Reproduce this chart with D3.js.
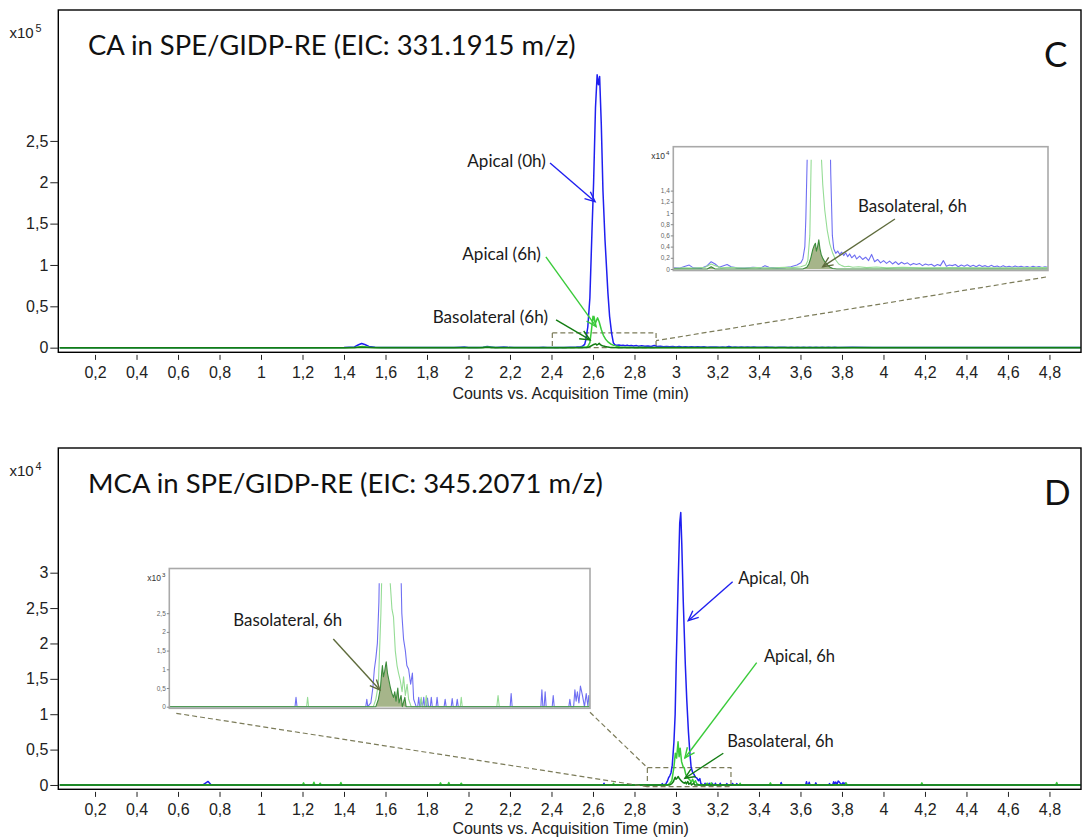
<!DOCTYPE html>
<html>
<head>
<meta charset="utf-8">
<script src="https://cdn.jsdelivr.net/npm/d3@7"></script>
<style>
  html, body { margin: 0; background: #fff; }
  svg { display: block; }
</style>
</head>
<body>
<svg id="chart" width="1083" height="840"></svg>
<script>
// ---------------------------------------------------------------
// Extracted ion chromatograms, counts vs. acquisition time (min)
// ---------------------------------------------------------------
const timeDomain = [0.023, 4.952];
const xTickValues = [0.2, 0.4, 0.6, 0.8, 1, 1.2, 1.4, 1.6, 1.8, 2, 2.2, 2.4, 2.6, 2.8, 3, 3.2, 3.4, 3.6, 3.8, 4, 4.2, 4.4, 4.6, 4.8];

// CA, EIC 331.1915 m/z
const caYTicks = [0, 50000, 100000, 150000, 200000, 250000];
const caInsetYTicks = [0, 2000, 4000, 6000, 8000, 10000, 12000, 14000];

const caApical0h = [
  [0.03, 0], [0.40, 0], [0.80, 50], [1.20, 0], [1.40, 100], [1.45, 900], [1.47, 3500], [1.485, 5000], [1.50, 3800],
  [1.52, 1500], [1.55, 600], [1.58, 300], [1.62, 200], [1.70, 100], [1.80, 150], [1.90, 200], [1.93, 150], [1.96, 500],
  [1.98, 700], [2.00, 200], [2.04, 150], [2.07, 600], [2.09, 1300], [2.11, 900], [2.13, 300], [2.17, 800], [2.19, 400],
  [2.22, 200], [2.26, 150], [2.30, 300], [2.34, 200], [2.36, 600], [2.38, 300], [2.42, 200], [2.46, 250], [2.49, 400],
  [2.52, 700], [2.54, 1100], [2.55, 1800], [2.56, 4000], [2.565, 9000], [2.575, 25000], [2.585, 60000], [2.595, 140000],
  [2.603, 200000], [2.612, 290000], [2.620, 330000], [2.626, 318000], [2.632, 328000], [2.640, 270000], [2.648, 190000],
  [2.658, 130000], [2.672, 66000], [2.680, 38000], [2.690, 17000], [2.698, 6000], [2.705, 3600], [2.715, 2800],
  [2.725, 3200], [2.735, 2600], [2.745, 3000], [2.755, 2400], [2.765, 2900], [2.775, 2200], [2.785, 2700], [2.795, 2000],
  [2.81, 2500], [2.82, 1800], [2.835, 2300], [2.85, 1700], [2.865, 2100], [2.88, 1500], [2.895, 2600], [2.91, 1300],
  [2.925, 1700], [2.94, 1100], [2.955, 1500], [2.97, 1000], [2.985, 1400], [3.00, 900], [3.015, 1300], [3.03, 800],
  [3.045, 1200], [3.06, 900], [3.075, 1100], [3.09, 700], [3.105, 1000], [3.12, 800], [3.135, 1000], [3.15, 600],
  [3.165, 900], [3.18, 700], [3.195, 850], [3.21, 500], [3.225, 800], [3.24, 600], [3.255, 1500], [3.27, 500],
  [3.285, 700], [3.30, 600], [3.315, 800], [3.33, 400], [3.345, 700], [3.36, 500], [3.375, 750], [3.39, 450],
  [3.405, 650], [3.42, 400], [3.435, 700], [3.45, 450], [3.465, 600], [3.48, 350], [3.495, 650], [3.51, 400],
  [3.525, 550], [3.54, 300], [3.555, 600], [3.57, 350], [3.585, 500], [3.60, 300], [3.615, 550], [3.63, 350],
  [3.645, 500], [3.66, 300], [3.675, 450], [3.69, 250], [3.705, 500], [3.72, 300], [3.735, 450], [3.75, 250],
  [3.765, 400], [3.78, 300], [3.85, 400], [3.95, 300], [4.05, 350], [4.20, 300], [4.35, 250], [4.50, 300],
  [4.70, 250], [4.95, 200]
];

const caApical6h = [
  [0.03, 0], [1.40, 0], [1.46, 400], [1.49, 1500], [1.52, 600], [1.56, 100], [1.90, 100], [1.95, 200], [2.00, 150],
  [2.06, 300], [2.09, 900], [2.11, 600], [2.14, 200], [2.18, 300], [2.25, 150], [2.32, 250], [2.40, 200], [2.46, 300],
  [2.50, 250], [2.54, 400], [2.565, 700], [2.575, 1500], [2.585, 6000], [2.592, 20000], [2.600, 38000], [2.606, 33000],
  [2.612, 30000], [2.622, 36000], [2.630, 31000], [2.640, 22000], [2.650, 15000], [2.660, 10500], [2.672, 7000],
  [2.685, 4500], [2.700, 2800], [2.715, 1600], [2.730, 900], [2.745, 600], [2.76, 400], [2.78, 500], [2.80, 300],
  [2.83, 400], [2.87, 250], [2.92, 350], [2.97, 200], [3.05, 300], [3.15, 200], [3.30, 250], [3.50, 200], [3.70, 250],
  [4.00, 200], [4.50, 200], [4.95, 150]
];

const caBasolateral6h = [
  [0.03, 0], [1.45, 0], [1.48, 600], [1.51, 300], [1.55, 0], [2.07, 0], [2.09, 400], [2.11, 0], [2.55, 0], [2.57, 300],
  [2.58, 900], [2.59, 2000], [2.60, 3500], [2.607, 4200], [2.613, 4600], [2.618, 3200], [2.624, 4000], [2.630, 5200],
  [2.636, 3600], [2.642, 2600], [2.65, 1900], [2.66, 1300], [2.67, 900], [2.68, 500], [2.69, 250], [2.70, 100],
  [2.72, 0], [4.95, 0]
];

// MCA, EIC 345.2071 m/z
const mcaYTicks = [0, 5000, 10000, 15000, 20000, 25000, 30000];
const mcaInsetYTicks = [0, 500, 1000, 1500, 2000, 2500];

const mcaApical0h = [
  [0.03, 0], [0.72, 0], [0.745, 500], [0.76, 0], [2.649, 0], [2.653, 250], [2.657, 0], [2.930, 0], [2.934, 200],
  [2.938, 0], [2.950, 100], [2.958, 500], [2.964, 1000], [2.970, 1300], [2.976, 1700], [2.982, 2800], [2.990, 6000],
  [2.996, 10000], [3.001, 17000], [3.010, 28000], [3.018, 37000], [3.023, 38500], [3.028, 34000], [3.035, 26000],
  [3.045, 17000], [3.052, 12000], [3.060, 7500], [3.067, 4500], [3.073, 2500], [3.080, 1800], [3.087, 1500],
  [3.093, 1100], [3.100, 1000], [3.108, 600], [3.115, 900], [3.120, 200], [3.130, 0],
  [3.136, 0], [3.140, 250], [3.144, 0], [3.146, 0], [3.150, 200], [3.154, 0], [3.156, 0], [3.160, 250], [3.164, 0],
  [3.171, 0], [3.175, 230], [3.179, 0], [3.186, 0], [3.190, 250], [3.194, 0], [3.209, 0], [3.213, 250], [3.217, 0],
  [3.241, 0], [3.245, 200], [3.249, 0], [3.269, 0], [3.273, 220], [3.277, 0], [3.289, 0], [3.293, 200], [3.297, 0],
  [3.503, 0], [3.507, 350], [3.511, 0], [3.625, 0], [3.629, 450], [3.633, 0], [3.638, 0], [3.642, 400], [3.646, 0],
  [3.670, 0], [3.674, 300], [3.678, 0], [3.736, 0], [3.740, 200], [3.744, 0], [3.755, 0], [3.760, 450], [3.765, 150],
  [3.770, 400], [3.776, 100], [3.782, 550], [3.790, 300], [3.798, 0], [3.805, 350], [3.812, 0], [3.815, 300],
  [3.820, 0], [4.95, 0]
];

const mcaApical6h = [
  [0.03, 0], [1.200, 0], [1.205, 300], [1.210, 0], [1.250, 0], [1.255, 400], [1.260, 0], [1.280, 0], [1.285, 250],
  [1.290, 0], [1.380, 0], [1.385, 350], [1.390, 0], [1.860, 0], [1.865, 300], [1.870, 0], [1.900, 0], [1.905, 350],
  [1.910, 0], [1.960, 0], [1.965, 250], [1.970, 0], [2.695, 0], [2.699, 250], [2.703, 0], [2.960, 0], [2.970, 200],
  [2.980, 600], [2.990, 2500], [2.997, 4500], [3.003, 3800], [3.010, 6100], [3.015, 4000], [3.020, 5200],
  [3.027, 3300], [3.034, 2600], [3.040, 2400], [3.047, 1500], [3.054, 1100], [3.060, 900], [3.067, 700],
  [3.074, 400], [3.080, 800], [3.087, 300], [3.094, 600], [3.100, 200], [3.110, 0], [3.145, 0], [3.150, 250],
  [3.155, 0], [3.165, 0], [3.170, 300], [3.175, 0], [3.305, 0], [3.309, 250], [3.313, 0], [3.450, 0], [3.455, 300],
  [3.460, 0], [3.815, 0], [3.820, 300], [3.825, 0], [4.180, 0], [4.185, 300], [4.190, 0], [4.830, 0], [4.835, 350],
  [4.840, 0], [4.95, 0]
];

const mcaBasolateral6h = [
  [0.03, 0], [2.970, 0], [2.980, 200], [2.988, 500], [2.993, 900], [2.996, 1100], [3.000, 800], [3.005, 950],
  [3.011, 1200], [3.016, 900], [3.022, 700], [3.028, 500], [3.034, 350], [3.040, 250], [3.045, 400], [3.050, 150],
  [3.057, 500], [3.062, 100], [3.070, 300], [3.075, 0], [3.085, 250], [3.090, 0], [4.95, 0]
];

// ---------------------------------------------------------------
const COLORS = {
  apical0h: '#1f1ff0', apical6h: '#3acb3a', basolateral6h: '#137d13',
  inApical0h: '#6f6ff2', inApical6h: '#95dc95', inBasolateral6h: '#3b8b3b',
  baseFill: 'rgba(128,150,88,0.7)', note: '#5e6b3c', dash: '#7c7c5a'
};
const AXIS_FONT = "Arial, 'Liberation Sans', sans-serif";
const TEXT_FONT = "Lato, 'Open Sans', sans-serif";

const decimalComma = v => String(+v.toFixed(3)).replace('.', ',');

const svg = d3.select('#chart');
const defs = svg.append('defs');

function fitWidth(sel, width) {
  const len = sel.node().getComputedTextLength();
  const fs = parseFloat(sel.attr('font-size'));
  sel.attr('font-size', (fs * width / len).toFixed(2));
}

function drawArrow(g, x1, y1, x2, y2, color, width) {
  const ang = Math.atan2(y2 - y1, x2 - x1);
  const len = 11, spread = 0.42;
  const a1 = ang + Math.PI - spread, a2 = ang + Math.PI + spread;
  g.append('line').attr('x1', x1).attr('y1', y1).attr('x2', x2).attr('y2', y2)
    .attr('stroke', color).attr('stroke-width', width);
  g.append('path')
    .attr('d', `M${x2 + len * Math.cos(a1)},${y2 + len * Math.sin(a1)}L${x2},${y2}L${x2 + len * Math.cos(a2)},${y2 + len * Math.sin(a2)}`)
    .attr('fill', 'none').attr('stroke', color).attr('stroke-width', width);
}

function exponentLabel(g, x, y, exp, size, color) {
  const t = g.append('text').attr('x', x).attr('y', y)
    .attr('font-family', AXIS_FONT).attr('font-size', size).attr('fill', color);
  t.append('tspan').text('x10');
  t.append('tspan').attr('dx', size * 0.12).attr('dy', -size * 0.4)
    .attr('font-size', size * 0.72).text(exp);
}

function drawTraces(g, x, y, series, withFill, clipId) {
  const line = d3.line().x(d => x(d[0])).y(d => y(d[1]));
  const area = d3.area().x(d => x(d[0])).y0(y(0)).y1(d => y(d[1]));
  const layer = g.append('g').attr('clip-path', `url(#${clipId})`);
  series.forEach(s => {
    if (withFill && s.fill) {
      layer.append('path').attr('d', area(s.data)).attr('fill', s.fill).attr('stroke', 'none');
    }
    layer.append('path').attr('d', line(s.data)).attr('fill', 'none')
      .attr('stroke', s.color).attr('stroke-width', s.width).attr('stroke-linejoin', 'round');
  });
}

function drawPanel(p) {
  const g = svg.append('g');
  const x = d3.scaleLinear().domain(timeDomain).range([p.left, p.right]);
  const y = d3.scaleLinear().domain(p.yDomain).range([p.bottom, p.top]);

  const clipId = 'clip-' + p.id;
  defs.append('clipPath').attr('id', clipId).append('rect')
    .attr('x', p.left).attr('y', p.top).attr('width', p.right - p.left).attr('height', p.bottom - p.top);

  // dashed zoom box sits under the traces
  const ann = g.append('g');
  const bx0 = x(p.box.t[0]), bx1 = x(p.box.t[1]), by0 = y(p.box.v[1]), by1 = y(p.box.v[0]);
  ann.append('rect').attr('x', bx0).attr('y', by0).attr('width', bx1 - bx0).attr('height', by1 - by0)
    .attr('fill', 'none').attr('stroke', COLORS.dash).attr('stroke-width', 1.2).attr('stroke-dasharray', '5,3');

  drawTraces(g, x, y, p.series.map(s => ({ data: s.data, color: s.color, width: 1.5 })), false, clipId);

  // frame
  g.append('rect').attr('x', p.left).attr('y', p.top).attr('width', p.right - p.left).attr('height', p.bottom - p.top)
    .attr('fill', 'none').attr('stroke', '#000').attr('stroke-width', 1.4);

  // axes
  const xAxis = d3.axisBottom(x).tickValues(xTickValues).tickSize(5).tickPadding(6.5).tickFormat(decimalComma);
  const ax = g.append('g').attr('transform', `translate(0,${p.bottom + 2.6})`).call(xAxis);
  ax.select('.domain').remove();
  ax.selectAll('text').attr('font-family', AXIS_FONT).attr('font-size', 16).attr('fill', '#222');
  ax.selectAll('line').attr('stroke', '#222');

  const yAxis = d3.axisLeft(y).tickValues(p.yTicks).tickSize(8).tickPadding(2)
    .tickFormat(v => decimalComma(v / p.unit));
  const ay = g.append('g').attr('transform', `translate(${p.left},0)`).call(yAxis);
  ay.select('.domain').remove();
  ay.selectAll('text').attr('font-family', AXIS_FONT).attr('font-size', 16).attr('fill', '#222');
  ay.selectAll('line').attr('stroke', '#222');

  exponentLabel(g, 9.5, p.top + 27.5, p.exp, 15, '#222');

  g.append('text').attr('x', (p.left + p.right) / 2 + 1).attr('y', p.xTitleY)
    .attr('text-anchor', 'middle').attr('font-family', AXIS_FONT).attr('font-size', 16).attr('fill', '#222')
    .text('Counts vs. Acquisition Time (min)');

  const title = g.append('text').attr('x', 88).attr('y', p.top + 45)
    .attr('font-family', TEXT_FONT).attr('font-size', 25).attr('fill', '#111').text(p.title);
  fitWidth(title, p.titleWidth);

  g.append('text').attr('x', 1044).attr('y', p.top + 57)
    .attr('font-family', TEXT_FONT).attr('font-size', 35).attr('fill', '#111').text(p.letter);

  // labelled arrows
  p.notes.forEach(n => {
    g.append('text').attr('x', x(n.at[0])).attr('y', y(n.at[1])).attr('text-anchor', n.anchor)
      .attr('font-family', TEXT_FONT).attr('font-size', p.noteSize).attr('fill', '#1a1a1a').text(n.text);
    drawArrow(g, x(n.from[0]), y(n.from[1]), x(n.to[0]), y(n.to[1]), n.color, 1.4);
  });

  // inset: the same traces magnified on the count axis
  const ins = p.inset;
  const ig = g.append('g');
  const ix = d3.scaleLinear().domain(ins.tDomain).range([ins.left, ins.right]);
  const iy = d3.scaleLinear().domain(ins.vDomain).range([ins.bottom, ins.top]);
  ig.append('rect').attr('x', ins.left).attr('y', ins.top).attr('width', ins.right - ins.left)
    .attr('height', ins.bottom - ins.top).attr('fill', '#fff');
  const iclip = 'clip-inset-' + p.id;
  defs.append('clipPath').attr('id', iclip).append('rect')
    .attr('x', ins.left).attr('y', iy(ins.clipMax)).attr('width', ins.right - ins.left)
    .attr('height', ins.bottom - iy(ins.clipMax));
  drawTraces(ig, ix, iy, p.series.map(s => ({ data: s.data, color: s.insetColor, width: 1.1, fill: s.fill })), true, iclip);
  ig.append('rect').attr('x', ins.left).attr('y', ins.top).attr('width', ins.right - ins.left)
    .attr('height', ins.bottom - ins.top).attr('fill', 'none').attr('stroke', '#a9a9a9').attr('stroke-width', 1.6);
  const iay = ig.append('g').attr('transform', `translate(${ins.left},0)`)
    .call(d3.axisLeft(iy).tickValues(ins.ticks).tickSize(2.5).tickPadding(1).tickFormat(v => decimalComma(v / ins.unit)));
  iay.select('.domain').remove();
  iay.selectAll('text').attr('font-family', AXIS_FONT).attr('font-size', 6.5).attr('fill', '#666');
  iay.selectAll('line').attr('stroke', '#888');
  exponentLabel(ig, ins.left - 22, ins.top + 12, ins.exp, 8.5, '#333');

  const inote = ins.note;
  const it = ig.append('text').attr('x', ix(inote.at[0])).attr('y', iy(inote.at[1]))
    .attr('font-family', TEXT_FONT).attr('font-size', 15.5).attr('fill', '#1a1a1a').text(inote.text);
  fitWidth(it, 109);
  drawArrow(ig, ix(inote.from[0]), iy(inote.from[1]), ix(inote.to[0]), iy(inote.to[1]), COLORS.note, 1.4);

  // dashed leader lines from the zoom box to the inset
  ins.leaders.forEach(l => {
    const start = l.fromInset === 'left' ? [ins.left + 7, ins.bottom + 5] : [ins.right + (l.dx || 0), ins.bottom + (l.dy || 4)];
    g.append('line').attr('x1', start[0]).attr('y1', start[1])
      .attr('x2', x(l.to[0])).attr('y2', y(l.to[1]))
      .attr('stroke', COLORS.dash).attr('stroke-width', 1.2).attr('stroke-dasharray', '5,3');
  });
}

const seriesFor = (a0, a6, b6) => [
  { data: a0, color: COLORS.apical0h, insetColor: COLORS.inApical0h },
  { data: a6, color: COLORS.apical6h, insetColor: COLORS.inApical6h },
  { data: b6, color: COLORS.basolateral6h, insetColor: COLORS.inBasolateral6h, fill: COLORS.baseFill }
];

drawPanel({
  id: 'ca', left: 58.3, right: 1081, top: 10, bottom: 352.3,
  yDomain: [-5600, 408300], yTicks: caYTicks, unit: 1e5, exp: '5',
  xTitleY: 399, title: 'CA in SPE/GIDP-RE (EIC: 331.1915 m/z)', titleWidth: 488, letter: 'C',
  noteSize: 17.1,
  series: seriesFor(caApical0h, caApical6h, caBasolateral6h),
  box: { t: [2.404, 2.904], v: [0, 18000] },
  notes: [
    { text: 'Apical (0h)', anchor: 'end', at: [2.373, 219000], from: [2.393, 223300], to: [2.610, 176500], color: COLORS.apical0h },
    { text: 'Apical (6h)', anchor: 'end', at: [2.349, 106000], from: [2.373, 109700], to: [2.615, 25400], color: COLORS.apical6h },
    { text: 'Basolateral (6h)', anchor: 'end', at: [2.383, 29900], from: [2.422, 33500], to: [2.586, 9300], color: COLORS.basolateral6h }
  ],
  inset: {
    left: 673.3, right: 1048, top: 146.7, bottom: 270.5,
    tDomain: [1.9, 3.78], vDomain: [-268, 21840], clipMax: 19500,
    ticks: caInsetYTicks, unit: 1e4, exp: '4',
    note: { text: 'Basolateral, 6h', at: [2.827, 10180], from: [3.012, 8930], to: [2.650, 410] },
    leaders: [{ fromInset: 'right', dx: -2, dy: 6.5, to: [2.904, 8500] }]
  }
});

drawPanel({
  id: 'mca', left: 58.3, right: 1081, top: 448, bottom: 789.3,
  yDomain: [-610, 47620], yTicks: mcaYTicks, unit: 1e4, exp: '4',
  xTitleY: 834, title: 'MCA in SPE/GIDP-RE (EIC: 345.2071 m/z)', titleWidth: 515, letter: 'D',
  noteSize: 16.5,
  series: seriesFor(mcaApical0h, mcaApical6h, mcaBasolateral6h),
  box: { t: [2.862, 3.265], v: [-240, 2445] },
  notes: [
    { text: 'Apical, 0h', anchor: 'start', at: [3.300, 28400], from: [3.273, 28730], to: [3.059, 23220], color: COLORS.apical0h },
    { text: 'Apical, 6h', anchor: 'start', at: [3.424, 17420], from: [3.389, 17280], to: [3.043, 3815], color: COLORS.apical6h },
    { text: 'Basolateral, 6h', anchor: 'start', at: [3.247, 5410], from: [3.228, 4480], to: [3.043, 950], color: COLORS.basolateral6h }
  ],
  inset: {
    left: 169.3, right: 590, top: 568.5, bottom: 708.3,
    tDomain: [2.15, 3.82], vDomain: [-43, 3695], clipMax: 3300,
    ticks: mcaInsetYTicks, unit: 1e3, exp: '3',
    note: { text: 'Basolateral, 6h', at: [2.404, 2158], from: [2.801, 1810], to: [2.986, 447] },
    leaders: [
      { fromInset: 'left', to: [2.862, -240] },
      { fromInset: 'right', dx: 0, dy: 4, to: [2.862, 2445] }
    ]
  }
});
</script>
</body>
</html>
